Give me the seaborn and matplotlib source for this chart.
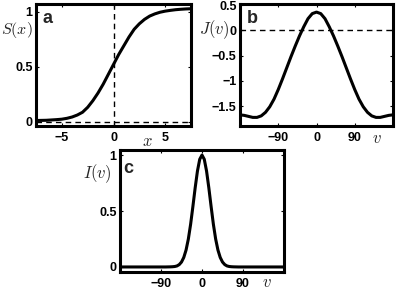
import numpy as np
import pandas as pd
import matplotlib
matplotlib.use('Agg')
import matplotlib.pyplot as plt
import seaborn as sns

sns.set_style('ticks')
plt.rcParams['font.family'] = ['Liberation Sans', 'DejaVu Sans']
plt.rcParams['mathtext.fontset'] = 'cm'

# panel a: S(x)
s_x = [-7.5, -7, -6.5, -6, -5.5, -5, -4.5, -4, -3.5, -3, -2.5, -2, -1.5, -1, -0.5, 0,
       0.5, 1, 1.5, 2, 2.5, 3, 3.5, 4, 4.5, 5, 5.5, 6, 6.5, 7, 7.5]
s_val = [0.010, 0.011, 0.012, 0.015, 0.018, 0.022, 0.030, 0.042, 0.060, 0.085, 0.130,
         0.190, 0.260, 0.340, 0.430, 0.520, 0.610, 0.690, 0.770, 0.840, 0.890, 0.930,
         0.960, 0.980, 0.995, 1.005, 1.012, 1.018, 1.022, 1.025, 1.027]

# panel b: J(v)
j_v = [-180, -170, -160, -150, -140, -130, -120, -110, -100, -90, -80, -70, -60, -50,
       -40, -30, -20, -10, 0, 10, 20, 30, 40, 50, 60, 70, 80, 90, 100, 110, 120, 130,
       140, 150, 160, 170, 180]
j_val = [-1.67, -1.68, -1.70, -1.72, -1.72, -1.69, -1.62, -1.51, -1.36, -1.17, -0.96,
         -0.74, -0.52, -0.31, -0.11, 0.07, 0.23, 0.33, 0.36, 0.33, 0.23, 0.07, -0.11,
         -0.31, -0.52, -0.74, -0.96, -1.17, -1.36, -1.51, -1.62, -1.69, -1.72, -1.72,
         -1.70, -1.68, -1.67]

# panel c: I(v)
i_v = [-180, -150, -120, -90, -80, -70, -65, -60, -55, -50, -45, -40, -35, -30, -25,
       -20, -15, -10, -5, 0, 5, 10, 15, 20, 25, 30, 35, 40, 45, 50, 55, 60, 65, 70, 80,
       90, 120, 150, 180]
i_val = [0, 0, 0, 0, 0, 0.001, 0.002, 0.004, 0.009, 0.021, 0.044, 0.085, 0.151, 0.249,
         0.381, 0.540, 0.707, 0.857, 0.962, 1.0, 0.962, 0.857, 0.707, 0.540, 0.381,
         0.249, 0.151, 0.085, 0.044, 0.021, 0.009, 0.004, 0.002, 0.001, 0, 0, 0, 0, 0]

fig = plt.figure(figsize=(3.96, 2.90), dpi=100)
ax_a = fig.add_axes([36/396, 164/290, 155/396, 122/290])
ax_b = fig.add_axes([240/396, 164/290, 153/396, 122/290])
ax_c = fig.add_axes([120/396, 18/290, 164/396, 122/290])

tick_font = dict(family='Liberation Sans', weight='bold', size=9)


def style(ax, letter, ylab, ylab_pos, xlab, xlab_pos, letter_pos, ysize=12):
    for sp in ax.spines.values():
        sp.set_visible(True)
        sp.set_linewidth(2.2)
        sp.set_color('black')
    ax.tick_params(direction='in', length=2.5, width=0.8, top=True, right=True,
                   pad=2.5, colors='black')
    ax.tick_params(axis='x', pad=4)
    for lab in ax.get_xticklabels() + ax.get_yticklabels():
        lab.set_fontfamily(tick_font['family'])
        lab.set_fontweight(tick_font['weight'])
        lab.set_fontsize(tick_font['size'])
    ax.set_xlabel('')
    ax.set_ylabel('')
    ax.text(ylab_pos[0], ylab_pos[1], ylab, transform=ax.transAxes, ha='right',
            va='center', fontsize=ysize)
    ax.text(xlab_pos[0], xlab_pos[1], xlab, transform=ax.transAxes, ha='center',
            va='center', fontsize=12)
    ax.text(letter_pos[0], letter_pos[1], letter, transform=ax.transAxes, ha='left',
            va='baseline', fontsize=13, fontweight='bold')


# a
sns.lineplot(x=s_x, y=s_val, ax=ax_a, color='black', lw=2.2, estimator=None)
ax_a.axhline(0, color='black', lw=1.0, ls=(0, (4, 3)))
ax_a.axvline(0, color='black', lw=1.0, ls=(0, (4, 3)))
ax_a.set_xlim(-7.5, 7.5)
ax_a.set_ylim(-0.04, 1.07)
ax_a.set_xticks([-5, 0, 5], ['\u22125', '0', '5'])
ax_a.set_yticks([0, 0.5, 1], ['0', '0.5', '1'])
style(ax_a, 'a', r'$S(x)$', (-0.022, 0.785), r'$x$', (0.716, -0.13), (0.045, 0.844),
      ysize=11.5)

# b
sns.lineplot(x=j_v, y=j_val, ax=ax_b, color='black', lw=2.2, estimator=None)
ax_b.axhline(0, color='black', lw=1.0, ls=(0, (4, 3)))
ax_b.set_xlim(-180, 180)
ax_b.set_ylim(-1.89, 0.52)
ax_b.set_xticks([-90, 0, 90], ['\u221290', '0', '90'])
ax_b.set_yticks([-1.5, -1, -0.5, 0, 0.5], ['\u22121.5', '\u22121', '\u22120.5', '0', '0.5'])
style(ax_b, 'b', r'$J(v)$', (-0.065, 0.787), r'$v$', (0.895, -0.10), (0.046, 0.844))

# c
sns.lineplot(x=i_v, y=i_val, ax=ax_c, color='black', lw=2.2, estimator=None)
ax_c.set_xlim(-180, 180)
ax_c.set_ylim(-0.045, 1.045)
ax_c.set_xticks([-90, 0, 90], ['\u221290', '0', '90'])
ax_c.set_yticks([0, 0.5, 1], ['0', '0.5', '1'])
style(ax_c, 'c', r'$I(v)$', (-0.05, 0.81), r'$v$', (0.896, -0.09), (0.02, 0.81))

fig.savefig('out.png', dpi=100)
